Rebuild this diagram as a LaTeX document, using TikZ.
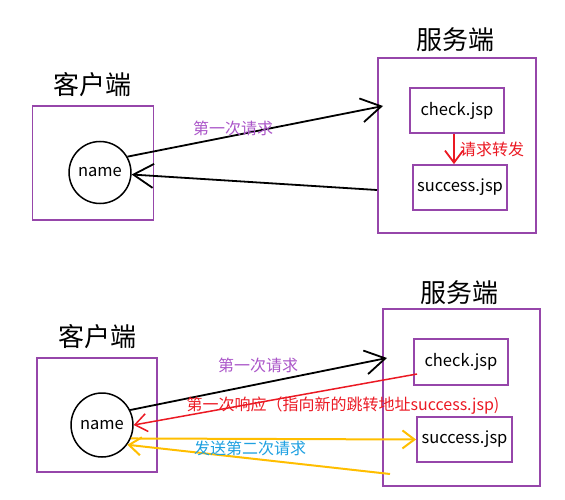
\documentclass[tikz,border=0pt]{standalone}
\usepackage{fontspec}
\setmainfont{Noto Sans CJK SC}
\usetikzlibrary{arrows.meta,shapes.geometric}
\definecolor{boxpurple}{RGB}{150,70,170}
\definecolor{textpurple}{RGB}{170,85,200}
\definecolor{jumpred}{RGB}{235,25,35}
\definecolor{againorange}{RGB}{255,190,0}
\definecolor{againblue}{RGB}{30,160,225}
\tikzset{
  side/.style={draw=boxpurple,line width=1.8pt,inner sep=0pt},
  page/.style={side,font=\fontsize{16.5}{18}\selectfont},
  user/.style={ellipse,draw,line width=1.5pt,inner sep=0pt,minimum width=56pt,minimum height=62pt,font=\fontsize{16.5}{18}\selectfont},
  title/.style={font=\fontsize{26}{28}\selectfont},
  note/.style={font=\fontsize{16}{18}\selectfont},
  bigtip/.style={line width=1.8pt,-{Straight Barb[length=20pt,width=24pt]}},
  smalltip/.style={line width=1.8pt,-{Straight Barb[length=12pt,width=18pt]}}
}

\begin{document}
\begin{tikzpicture}[x=1pt,y=-1pt]
  \useasboundingbox (0,0) rectangle (565,500);
  % first picture: forward on the server
  \node[title] (cliTA) at (92,85) {客户端}; \node[title] (srvTA) at (455,40) {服务端};
  \node[side,minimum width=121pt,minimum height=114pt] (cliA) at (93,163) {};
  \node[side,minimum width=158pt,minimum height=175pt] (srvA) at (457,145.5) {};
  \node[page,minimum width=94pt,minimum height=45pt] (chkA) at (457,110.5) {check.jsp};
  \node[page,minimum width=94pt,minimum height=45pt] (sucA) at (460,187.5) {success.jsp};
  \node[user] (nameA) at (100,172.5) {name};
  \coordinate (reqA) at (383,106); \coordinate (resA) at (377,190);
  \draw[bigtip] (nameA.30) -- (reqA); \draw[bigtip] (resA) -- (nameA);
  \draw[smalltip,jumpred] (chkA.south -| 454,0) -- (sucA.north -| 454,0) node[midway,right=2pt,note]{请求转发};
  \node[note,textpurple] (askA) at (233,128) {第一次请求};
  % second picture: redirect
  \node[title] (cliTB) at (97,337) {客户端}; \node[title] (srvTB) at (459,293) {服务端};
  \node[side,minimum width=120pt,minimum height=114pt] (cliB) at (97,415) {};
  \node[side,minimum width=157pt,minimum height=177pt] (srvB) at (461.5,397.5) {};
  \node[page,minimum width=94pt,minimum height=46pt] (chkB) at (461,362) {check.jsp};
  \node[page,minimum width=95pt,minimum height=45pt] (sucB) at (464.5,439.5) {success.jsp};
  \node[user,minimum width=55pt,minimum height=64pt] (nameB) at (102,425) {name};
  \coordinate (reqB) at (387,358); \coordinate (resB) at (417,374); \coordinate (backB) at (390,474);
  \draw[bigtip] (nameB.28) -- (reqB);
  \draw[smalltip,jumpred,line width=1.5pt] (resB) -- (nameB.east);
  \draw[smalltip,againorange,line width=2pt] (nameB.-25) -- (sucB.west);
  \draw[smalltip,againorange,line width=2pt] (backB) -- (nameB.-38);
  \node[note,textpurple] (askB) at (258,365) {第一次请求};
  \node[note,jumpred] (jumpB) at (343,406) {第一次响应（指向新的跳转地址success.jsp)};
  \node[note,againblue] (againB) at (250,448) {发送第二次请求};
\end{tikzpicture}
\end{document}
